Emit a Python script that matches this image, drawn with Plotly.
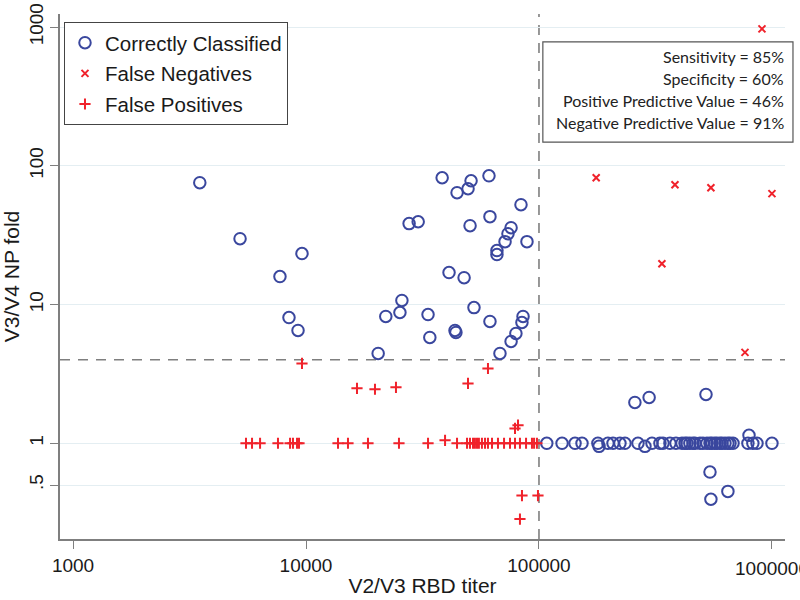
import math
import plotly.graph_objects as go

# ---- data ----
cc_x = [3500, 5210, 7730, 9610, 8450, 9240, 20400, 22000, 25300, 25800, 27700, 30300,
        33400, 34000, 38400, 41100, 43600, 44000, 44500, 47700, 49600, 51100, 50600,
        52600, 61000, 61600, 61600, 66000, 66000, 68000, 71500, 73600, 75900, 75900,
        79600, 83700, 84500, 85400, 88800,
        258000, 297000, 521000, 797000, 542000, 547000, 647000,
        108000, 125600, 142800, 153000, 179000, 181000, 197700, 207800, 222600, 233900,
        266000, 285000, 305500, 330500, 340600, 364900, 387300, 411000, 423500, 431800,
        444200, 458300, 467400, 491000, 505700, 526000, 542000, 552500, 568500, 580500,
        598000, 610000, 628500, 647000, 660500, 680600, 788600, 828000, 862600, 1000000]
cc_y = [75.5, 29.8, 15.9, 23.3, 8.06, 6.5, 4.44, 8.2, 8.76, 10.7, 38.3, 39.5,
        8.47, 5.79, 82, 17.0, 6.5, 6.29, 64, 15.6, 68.3, 78, 37,
        9.5, 84.7, 43, 7.55, 24.5, 22.9, 4.44, 28.4, 32.4, 35.8, 5.42,
        6.19, 52.4, 7.42, 8.2, 28.4,
        1.97, 2.14, 2.25, 1.14, 0.62, 0.395, 0.45,
        1, 1, 1, 1, 1, 0.95, 1, 1, 1, 1,
        1, 0.95, 1, 1, 1, 1, 1, 1, 1, 1,
        1, 1, 1, 1, 1, 1, 1, 1, 1, 1,
        1, 1, 1, 1, 1, 1, 1, 1, 1, 1]

fn_x = [906000, 176000, 383500, 547000, 1000000, 337000, 766000]
fn_y = [970, 82, 73, 69.5, 63, 19.7, 4.52]

fp_x = [5525, 5865, 6350, 7580, 8540, 8790, 9150, 9330, 13720, 15140, 18450, 25060,
        33400, 39520, 44480, 49100, 50560, 52100, 53100, 54200, 55220, 56900, 58660,
        60400, 62850, 66680, 70800, 75100, 78900, 82850, 88000, 93300, 95250, 98000,
        9610, 16550, 19770, 24330, 49580, 60400, 78900, 81280, 84530, 99000, 82850]
fp_y = [1, 1, 1, 1, 1, 1, 1, 1, 1, 1, 1, 1,
        1, 1.05, 1, 1, 1, 1, 1, 1, 1, 1, 1,
        1, 1, 1, 1, 1, 1, 1, 1, 1, 1, 1,
        3.76, 2.49, 2.45, 2.53, 2.7, 3.46, 1.28, 1.35, 0.42, 0.42, 0.284]

x_ticks = [1000, 10000, 100000, 1000000]
x_ticktext = ["1000", "10000", "100000", "1000000"]
y_ticks = [1000, 100, 10, 1, 0.5]
y_ticktext = ["1000", "100", "10", "1", ".5"]

x_cut = 100000
y_cut = 4

stats_lines = ["Sensitivity = 85%", "Specificity = 60%",
               "Positive Predictive Value = 46%", "Negative Predictive Value = 91%"]

BLUE = "#3a479e"
RED = "#f0222b"
GRAY = "#7f7f7f"
FONT = "Liberation Sans, Arial, sans-serif"

X_RANGE = [2.944, 6.056]
Y_RANGE = [-0.69, 3.094]

fig = go.Figure()
fig.add_trace(go.Scatter(x=cc_x, y=cc_y, mode="markers", name="Correctly Classified",
                         legendgroup="a",
                         marker=dict(symbol="circle-open", size=11.5, color=BLUE,
                                     line=dict(width=2, color=BLUE))))
fig.add_trace(go.Scatter(x=fn_x, y=fn_y, mode="markers", name="False Negatives",
                         legendgroup="b",
                         marker=dict(symbol="x-thin-open", size=7, color=RED,
                                     line=dict(width=2, color=RED))))
fig.add_trace(go.Scatter(x=fp_x, y=fp_y, mode="markers", name="False Positives",
                         legendgroup="c",
                         marker=dict(symbol="cross-thin-open", size=8, color=RED,
                                     line=dict(width=2, color=RED))))

# reference lines
fig.add_shape(type="line", xref="paper", yref="y", x0=0, x1=1, y0=y_cut, y1=y_cut,
              line=dict(color=GRAY, width=1.6, dash="10px,8px"), layer="below")
fig.add_shape(type="line", xref="x", yref="paper", x0=x_cut, x1=x_cut, y0=0, y1=1,
              line=dict(color=GRAY, width=1.6, dash="10px,8px"), layer="below")

# stats box
fig.add_shape(type="rect", xref="paper", yref="paper", x0=0.666, x1=1.011,
              y0=0.756, y1=0.947, line=dict(color="#555555", width=1.2),
              fillcolor="white", layer="above")
line_y = [0.919, 0.877, 0.836, 0.793]
for txt, yy in zip(stats_lines, line_y):
    fig.add_annotation(text=txt, xref="paper", yref="paper", x=1.0014, y=yy,
                       xanchor="right", yanchor="middle", showarrow=False,
                       font=dict(family="Lato, Open Sans, sans-serif", size=16,
                                 color="#222222"))

# last x tick label (partly cut by the right edge, as in the reference)
last_frac = (math.log10(x_ticks[-1]) - X_RANGE[0]) / (X_RANGE[1] - X_RANGE[0])
fig.add_annotation(text=x_ticktext[-1], xref="paper", yref="paper", x=last_frac, y=0,
                   xanchor="center", yanchor="middle", yshift=-29, showarrow=False,
                   font=dict(family=FONT, size=19, color="#1a1a1a"))

fig.update_layout(
    width=800, height=600,
    margin=dict(l=60, r=15, t=14, b=61, autoexpand=False),
    paper_bgcolor="white", plot_bgcolor="white",
    font=dict(family=FONT, color="#1a1a1a"),
    showlegend=True,
    legend=dict(x=0.0055, y=0.985, xanchor="left", yanchor="top",
                bordercolor="#444444", borderwidth=1, bgcolor="white",
                font=dict(family=FONT, size=20.5, color="#1a1a1a"),
                tracegroupgap=1, itemwidth=30),
)
fig.update_xaxes(type="log", range=X_RANGE, tickvals=x_ticks, ticktext=x_ticktext,
                 showgrid=False, zeroline=False, showline=True, linecolor=GRAY,
                 linewidth=1.5, ticks="outside", ticklen=8, tickcolor=GRAY,
                 tickfont=dict(size=19), title=dict(text="V2/V3 RBD titer",
                 font=dict(size=21), standoff=4))
fig.update_yaxes(type="log", range=Y_RANGE, tickvals=y_ticks, ticktext=y_ticktext,
                 tickangle=-90, showgrid=True, gridcolor="#e4eef2", gridwidth=1.2,
                 zeroline=False, showline=True, linecolor=GRAY, linewidth=1.5,
                 ticks="outside", ticklen=8, tickcolor=GRAY, tickfont=dict(size=19),
                 title=dict(text="V3/V4 NP fold", font=dict(size=21), standoff=4))

fig.write_html("out.html", config={"displayModeBar": False},
               post_script="document.body.style.margin='0px';document.body.style.padding='0px';")
